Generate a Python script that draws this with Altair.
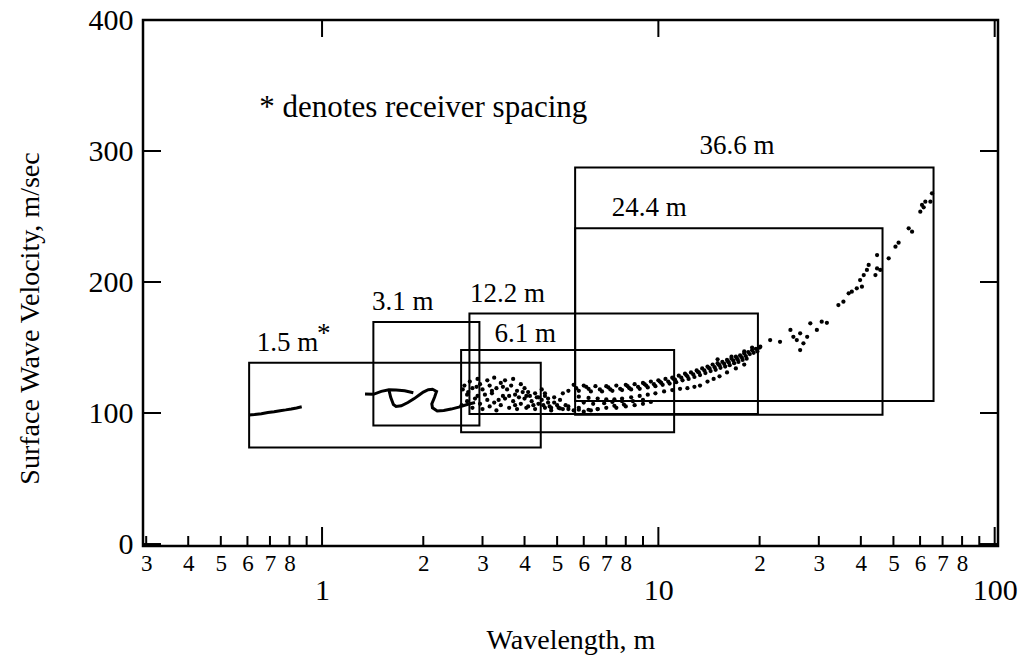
import altair as alt
import pandas as pd

FONT = "Liberation Serif"

# ---- continuous traces (1.5 m and 3.1 m spreads) ----
tr1_x = [0.607, 0.63, 0.66, 0.69, 0.72, 0.75, 0.78, 0.81, 0.84, 0.87]
tr1_y = [98.5, 98.8, 99.5, 100.4, 101.0, 101.8, 102.4, 103.1, 103.9, 104.8]

tr2_x = [1.342, 1.421, 1.50, 1.58, 1.66, 1.76, 1.868]
tr2_y = [114.5, 114.3, 116.5, 117.8, 117.5, 117.0, 115.5]

tr3_x = [1.58, 1.60, 1.63, 1.66, 1.72, 1.80, 1.88, 1.94, 2.0, 2.07, 2.13, 2.19, 2.16, 2.12,
         2.13, 2.2, 2.3, 2.42, 2.55, 2.7, 2.85]
tr3_y = [117.8, 112.0, 106.5, 105.0, 105.5, 108.0, 111.0, 113.5, 116.0, 117.8, 118.2, 116.5,
         112.0, 107.0, 104.0, 101.5, 102.0, 103.0, 104.5, 106.5, 108.0]

# ---- scattered dispersion points ----
dot_x = [
    # cluster 2.6-4.6, upper
    2.65, 2.75, 2.8, 2.9, 2.95, 3.0, 3.1, 3.15, 3.25, 3.3, 3.4, 3.5, 3.55, 3.65, 3.7, 3.8, 3.9,
    4.0, 4.1, 4.3, 4.5, 4.6,
    # cluster lower
    2.6, 2.7, 2.8, 2.85, 2.95, 3.0, 3.1, 3.15, 3.25, 3.3, 3.4, 3.5, 3.6, 3.7, 3.8, 3.9, 4.0,
    4.1, 4.2, 4.3, 4.4, 4.5, 4.6, 4.7, 4.8, 5.0, 5.2, 5.4, 5.6, 5.8, 6.0, 6.3, 6.6,
    # cluster middle
    2.7, 2.9, 3.2, 3.45, 3.75, 4.05, 4.35, 4.7, 5.1, 4.6, 4.9, 5.2, 5.4,
    # cluster extra
    2.62, 2.72, 2.88, 3.05, 3.2, 3.35, 3.45, 3.6, 3.75, 3.85, 3.95, 4.05, 4.15, 4.25, 4.4,
    4.55, 4.75, 4.9, 5.05, 5.3,
    # low dots
    4.8, 5.1, 5.4, 5.8, 6.2, 6.6, 7.0, 7.4, 7.9, 7.5, 8.0, 8.5, 9.0, 9.5,
    # mid strand
    6.0, 6.4, 6.9, 7.3, 7.8, 8.4, 9.0,
    # main band, upper row
    5.6, 6.0, 6.5, 7.0, 7.5, 8.0, 8.5, 9.0, 9.5, 10.0, 10.5, 11.0, 11.5, 12.0, 12.5, 13.0,
    13.5, 14.0, 14.5, 15.0, 15.5, 16.0, 16.5, 17.0, 17.5, 18.0, 18.5, 19.0, 19.5, 20.0,
    # main band, second row
    5.7, 6.2, 6.7, 7.2, 7.7, 8.2, 8.7, 9.2, 9.7, 10.2, 10.7, 11.2, 11.7, 12.2, 12.7, 13.2,
    13.7, 14.2, 14.7, 15.2, 15.7, 16.2, 16.7, 17.2, 17.7, 18.2, 18.7, 19.2, 19.7,
    # main band, third row
    5.8, 6.3, 6.8, 7.3, 7.8, 8.3, 8.8, 9.3, 9.8, 10.3, 10.8, 11.3, 11.8, 12.3, 12.8, 13.3,
    13.8, 14.3, 14.8, 15.3, 15.8, 16.3, 16.8, 17.3, 17.8, 18.3,
    # main band, fourth row
    6.1, 7.1, 8.1, 9.1, 10.1, 11.1, 12.1, 13.1, 14.1, 15.1, 16.1, 17.1,
    # lower strand
    5.8, 6.2, 6.6, 7.0, 7.4, 7.8, 8.3, 8.8, 9.3, 9.8, 10.4, 11.0, 11.6, 12.2, 12.8, 13.3,
    14.0, 14.6, 15.2, 16.0, 17.0, 18.0,
    # scattered above band
    15.0, 16.5, 18.0, 19.0,
    # long-wavelength points
    20.1, 21.5, 23.0, 24.7, 25.2, 25.8, 26.4, 27.0, 27.7, 28.3, 26.4, 29.6, 30.6, 31.7,
    34.3, 35.5, 36.8, 37.6, 38.9, 40.3, 39.8, 40.8, 41.7, 42.2, 44.2, 44.7, 44.7, 45.7,
    48.4, 50.7, 51.8, 55.5, 56.8, 60.1, 60.8, 62.2, 64.4, 65.1, 61.5,
]
dot_y = [
    121, 124, 119, 126, 122, 118, 125, 121, 127, 119, 123, 125, 118, 121, 126, 117, 122,
    119, 116, 115, 118, 115,
    106, 109, 104, 111, 107, 103, 110, 105, 108, 102, 106, 111, 104, 109, 103, 107, 111,
    105, 109, 103, 107, 110, 104, 108, 102, 106, 103, 105, 102, 104, 101, 102, 103,
    114, 113, 115, 113, 114, 113, 112, 111, 110, 113, 112, 115, 117,
    118, 116, 120, 114, 117, 110, 120, 113, 106, 112, 116, 104, 113, 106, 112,
    106, 105, 108, 104, 106,
    104, 103.5, 103, 102.5, 102.5, 103, 104, 105.5, 106.5, 104, 105, 106, 107, 108.5,
    108, 107, 107.5, 108.5, 109, 109, 110,
    121.5, 121, 120.5, 120.5, 121, 121.5, 122, 123, 124, 125, 126, 127, 128.5, 130, 131,
    132.5, 134, 135.5, 137, 138, 139, 140.5, 141.5, 143, 144, 145.5, 146.5, 148, 149, 150,
    119, 118.5, 118, 118, 118.5, 119, 120, 121, 122, 123, 124, 125.5, 127, 128, 129.5,
    131, 132.5, 134, 135, 136.5, 137.5, 138.5, 140, 141, 142.5, 143.5, 145, 146, 147,
    117, 116.5, 116.5, 117, 117.5, 118, 118.5, 119.5, 120.5, 121.5, 122.5, 123.5, 125,
    126, 127.5, 129, 130.5, 132, 133, 134.5, 135.5, 136.5, 138, 139, 140.5, 141.5,
    120, 119.5, 120.5, 122, 124, 126, 129, 131.5, 134.5, 137, 139.5, 142,
    112.5, 111.5, 111, 110.5, 110.5, 111, 112, 113, 114, 115, 116.5, 117.5, 118.5, 119,
    120, 121, 124, 126, 128, 131, 134, 137,
    141, 143, 147, 150,
    150.6, 155.7, 154.4, 163.4, 158.2, 155.7, 160.8, 153.2, 158.2, 168.5, 148.1, 163.4,
    169.7, 168.9, 182.4, 185.0, 191.4, 192.6, 195.2, 196.4, 201.5, 205.3, 209.2, 213.0,
    205.3, 210.4, 220.6, 209.2, 218.1, 227.0, 230.0, 241.0, 238.4, 253.7, 258.8, 261.3,
    261.3, 267.7, 257.0,
]

# ---- receiver-spacing boxes ----
box_name = ["1.5 m", "3.1 m", "6.1 m", "12.2 m", "24.4 m", "36.6 m"]
box_x1 = [0.607, 1.421, 2.591, 2.743, 5.656, 5.656]
box_x2 = [4.47, 2.937, 11.14, 19.77, 46.4, 65.8]
box_y1 = [73.6, 90.4, 85.4, 99.2, 98.6, 109.1]
box_y2 = [138.4, 169.5, 148.1, 176.0, 241.0, 287.5]

# ---- annotation labels ----
lab_text = ["1.5 m", "3.1 m", "6.1 m", "12.2 m", "24.4 m", "36.6 m"]
lab_x = [0.639, 1.408, 3.254, 2.755, 7.27, 13.25]
lab_y = [147.6, 178.6, 154.4, 184.7, 250.4, 297.7]
star_x = [0.966]
star_y = [147.6]
note_text = ["* denotes receiver spacing"]
note_x = [0.651]
note_y = [325.7]

# ---- axis ticks ----
x_minor = [0.3, 0.4, 0.5, 0.6, 0.7, 0.8, 0.9, 2, 3, 4, 5, 6, 7, 8, 9,
           20, 30, 40, 50, 60, 70, 80, 90]
x_major = [1, 10, 100]
y_major = [0, 100, 200, 300, 400]

W, H = 855, 526
XDOM = [0.2935, 102.3]
YDOM = [-1.5, 400]

xs = alt.Scale(type="log", domain=XDOM, nice=False)
ys = alt.Scale(domain=YDOM, nice=False, zero=False)

is_major = "indexof([1,10,100], datum.value) >= 0"
lead = "round(datum.value / pow(10, floor(log(datum.value)/LN10 + 1e-9)))"
x_axis = alt.Axis(
    values=x_minor + x_major,
    labelExpr=f"{is_major} ? ('' + datum.value) : ({lead} == 9 ? '' : '' + {lead})",
    domain=False, ticks=False, grid=False,
    labelFont=FONT, labelColor="black",
    labelFontSize={"condition": {"test": is_major, "value": 30}, "value": 23},
    labelPadding={"condition": {"test": is_major, "value": 44}, "value": 17},
    labelBaseline="middle",
    labelOverlap=False, labelFlush=False, labelBound=False,
    title="Wavelength, m", titleFont=FONT, titleFontSize=28, titleFontWeight="normal",
    titleColor="black", titleBaseline="middle", titleY=94,
)
y_axis = alt.Axis(
    values=y_major, domain=False, ticks=False, grid=False,
    labelFont=FONT, labelFontSize=30, labelColor="black", labelPadding=10,
    labelBaseline="middle",
    title="Surface Wave Velocity, m/sec", titleFont=FONT, titleFontSize=28,
    titleFontWeight="normal", titleColor="black", titleX=-113, titleY=298,
    titleAngle=270, titleBaseline="middle", titleAlign="center",
)


def X(field):
    return alt.X(field, scale=xs, axis=x_axis, title="Wavelength, m")


def Y(field):
    return alt.Y(field, scale=ys, axis=y_axis, title="Surface Wave Velocity, m/sec")


boxes = pd.DataFrame({"name": box_name, "x1": box_x1, "x2": box_x2, "y1": box_y1, "y2": box_y2})
box_layer = alt.Chart(boxes).mark_rect(fill=None, filled=False, stroke="black", strokeWidth=2).encode(
    x=X("x1:Q"), x2="x2:Q", y=Y("y1:Q"), y2="y2:Q",
)

traces = pd.concat([
    pd.DataFrame({"seg": "a", "i": range(len(tr1_x)), "x": tr1_x, "y": tr1_y}),
    pd.DataFrame({"seg": "b", "i": range(len(tr2_x)), "x": tr2_x, "y": tr2_y}),
    pd.DataFrame({"seg": "c", "i": range(len(tr3_x)), "x": tr3_x, "y": tr3_y}),
])
trace_layer = alt.Chart(traces).mark_line(color="black", strokeWidth=3).encode(
    x=X("x:Q"), y=Y("y:Q"), detail="seg:N", order="i:Q",
)

dots = pd.DataFrame({"x": dot_x, "y": dot_y})
dot_layer = alt.Chart(dots).mark_circle(color="black", size=18, opacity=1).encode(
    x=X("x:Q"), y=Y("y:Q"),
)

labels = pd.DataFrame({"t": lab_text, "x": lab_x, "y": lab_y})
label_layer = alt.Chart(labels).mark_text(
    font=FONT, fontSize=27, align="left", baseline="alphabetic", color="black"
).encode(x=X("x:Q"), y=Y("y:Q"), text="t:N")

star = pd.DataFrame({"x": star_x, "y": star_y, "t": ["*"]})
star_layer = alt.Chart(star).mark_text(
    font=FONT, fontSize=27, align="left", baseline="alphabetic", color="black", dy=-9
).encode(x=X("x:Q"), y=Y("y:Q"), text="t:N")

note = pd.DataFrame({"x": note_x, "y": note_y, "t": note_text})
note_layer = alt.Chart(note).mark_text(
    font=FONT, fontSize=31, align="left", baseline="alphabetic", color="black"
).encode(x=X("x:Q"), y=Y("y:Q"), text="t:N")

xmin_df = pd.DataFrame({"v": x_minor})
xmaj_df = pd.DataFrame({"v": x_major})
ymaj_df = pd.DataFrame({"v": y_major})

tick_bottom_minor = alt.Chart(xmin_df).mark_rule(color="black", strokeWidth=2).encode(
    x=X("v:Q"), y=alt.value(H), y2=alt.value(H - 10))
tick_bottom_major = alt.Chart(xmaj_df).mark_rule(color="black", strokeWidth=2).encode(
    x=X("v:Q"), y=alt.value(H), y2=alt.value(H - 19))
tick_top_major = alt.Chart(xmaj_df).mark_rule(color="black", strokeWidth=2).encode(
    x=X("v:Q"), y=alt.value(0), y2=alt.value(17))
tick_left = alt.Chart(ymaj_df).mark_rule(color="black", strokeWidth=2).encode(
    y=Y("v:Q"), x=alt.value(0), x2=alt.value(18))
tick_right = alt.Chart(ymaj_df).mark_rule(color="black", strokeWidth=2).encode(
    y=Y("v:Q"), x=alt.value(W), x2=alt.value(W - 18))

chart = alt.layer(
    box_layer, trace_layer, dot_layer, label_layer, star_layer, note_layer,
    tick_bottom_minor, tick_bottom_major, tick_top_major, tick_left, tick_right,
).properties(
    width=W, height=H,
    autosize=alt.AutoSizeParams(type="none"),
    padding={"left": 143, "top": 20, "right": 26, "bottom": 114},
    background="white",
).configure_view(
    stroke="black", strokeWidth=2.5
)

chart.save("out.html", embed_options={"renderer": "svg", "actions": False})
